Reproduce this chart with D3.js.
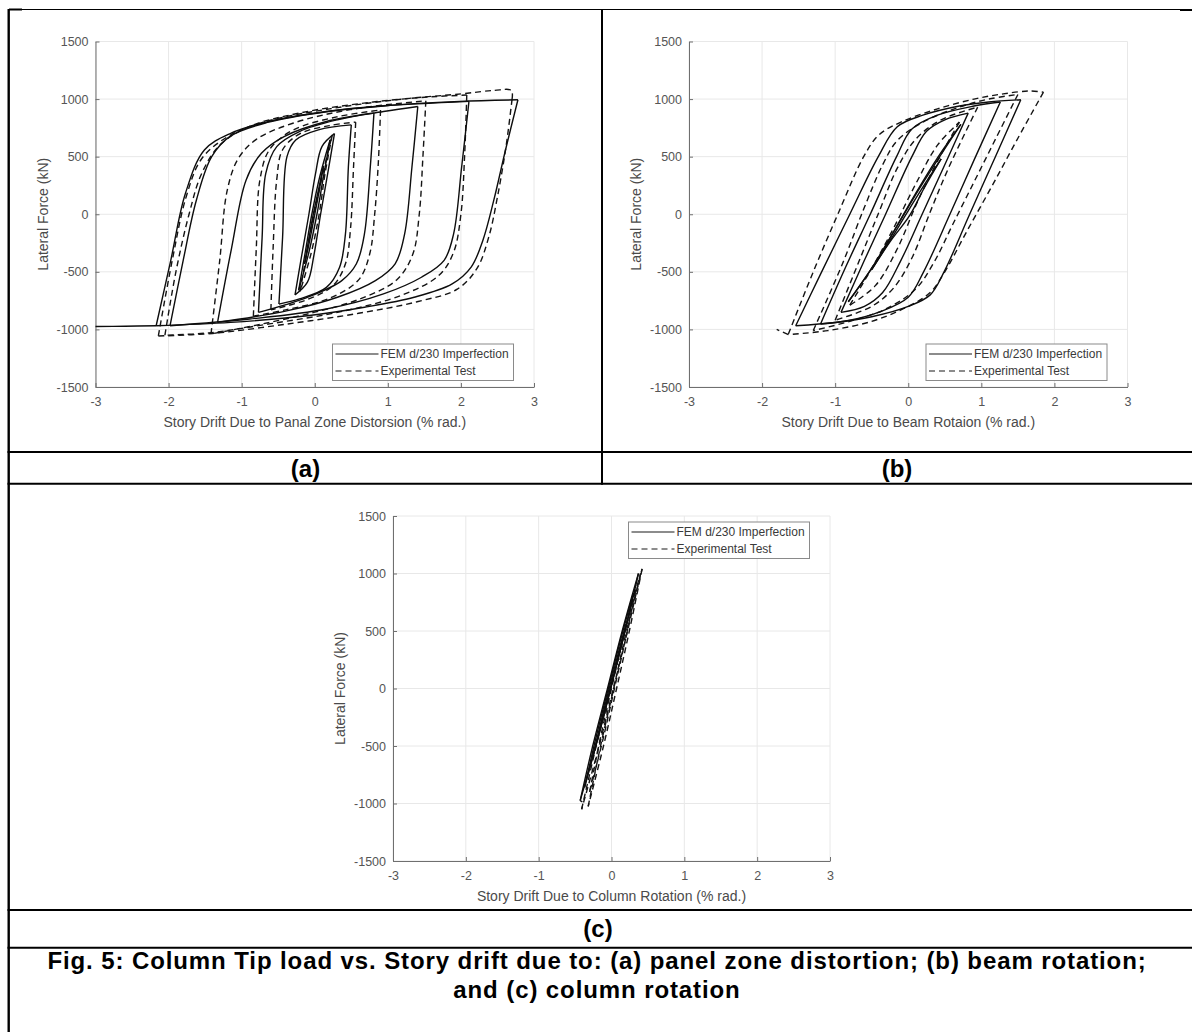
<!DOCTYPE html>
<html>
<head>
<meta charset="utf-8">
<script src="https://cdn.jsdelivr.net/npm/d3@7"></script>
<style>
  html, body { margin: 0; padding: 0; background: #fff; }
  svg { display: block; }
</style>
</head>
<body>
<svg id="figure" width="1192" height="1032"></svg>
<script>
// ---- data ----
const X_TICKS = [-3, -2, -1, 0, 1, 2, 3];
const Y_TICKS = [-1500, -1000, -500, 0, 500, 1000, 1500];
const SERIES_NAMES = ['FEM d/230 Imperfection', 'Experimental Test'];
const X_TITLES = [
    'Story Drift Due to Panal Zone Distorsion (% rad.)',
    'Story Drift Due to Beam Rotaion (% rad.)',
    'Story Drift Due to Column Rotation (% rad.)'
];
const Y_TITLE = 'Lateral Force (kN)';
const PANEL_TAGS = ['(a)', '(b)', '(c)'];
const CAPTION_LINES = [
    'Fig. 5: Column Tip load vs. Story drift due to: (a) panel zone distortion; (b) beam rotation;',
    'and (c) column rotation'
];

// every entry is one half cycle, points are [drift %, force kN]
const PZ_FEM = [
    [[0.12, 420], [0.06, 200], [0.0, 0], [-0.07, -230], [-0.14, -430]],
    [[-0.14, -430], [-0.08, -210], [-0.02, 0], [0.05, 210], [0.12, 420]],
    [[0.21, 645], [0.12, 330], [0.03, 0], [-0.08, -330], [-0.22, -660]],
    [[-0.22, -660], [-0.13, -330], [-0.04, 0], [0.07, 330], [0.21, 645]],
    [[0.27, 700], [0.19, 400], [0.08, 0], [-0.01, -350], [-0.1, -590], [-0.27, -700]],
    [[-0.27, -700], [-0.19, -400], [-0.08, 0], [0.01, 350], [0.1, 590], [0.27, 700]],
    [[0.50, 776], [0.46, 410], [0.42, -170], [0.34, -460], [0.16, -635], [-0.21, -735], [-0.49, -780]],
    [[-0.49, -780], [-0.44, -200], [-0.38, 500], [-0.26, 645], [0.05, 733], [0.50, 776]],
    [[0.81, 878], [0.76, 410], [0.68, -170], [0.57, -430], [0.37, -576], [-0.10, -721], [-0.77, -852]],
    [[-0.77, -852], [-0.72, -200], [-0.67, 355], [-0.52, 587], [-0.21, 718], [0.31, 820], [0.81, 878]],
    [[1.41, 936], [1.33, 410], [1.23, -170], [1.10, -430], [0.83, -576], [0.31, -721], [-0.37, -837], [-1.33, -939]],
    [[-1.33, -939], [-1.14, -300], [-0.94, 296], [-0.73, 529], [-0.42, 674], [0.16, 805], [0.94, 892], [1.41, 936]],
    [[2.11, 980], [2.01, 410], [1.90, -170], [1.77, -400], [1.46, -547], [0.94, -692], [0.16, -823], [-0.89, -910], [-1.98, -968]],
    [[-1.98, -968], [-1.80, -400], [-1.62, 122], [-1.41, 500], [-1.15, 680], [-0.63, 800], [0.16, 890], [0.94, 940], [2.11, 980]],
    [[2.78, 994], [2.61, 558], [2.45, 122], [2.30, -227], [2.14, -459], [1.88, -605], [1.36, -721], [0.68, -808], [-0.10, -881], [-1.15, -939], [-2.17, -968]],
    [[-2.17, -968], [-1.97, -400], [-1.77, 180], [-1.51, 558], [-1.15, 703], [-0.63, 805], [0.16, 892], [0.94, 942], [1.98, 980], [2.78, 994]],
    [[-2.17, -968], [-2.6, -972], [-3.0, -975]]
];
const PZ_EXP = [
    [[0.24, 690], [0.14, 350], [0.06, 0], [-0.05, -340], [-0.2, -670]],
    [[-0.2, -670], [-0.11, -340], [-0.01, 0], [0.11, 350], [0.24, 690]],
    [[0.56, 800], [0.53, 400], [0.49, -120], [0.42, -430], [0.25, -620], [-0.1, -740], [-0.6, -830]],
    [[-0.6, -830], [-0.57, -300], [-0.52, 300], [-0.44, 560], [-0.2, 700], [0.2, 770], [0.56, 800]],
    [[0.90, 905], [0.87, 450], [0.82, 0], [0.75, -350], [0.6, -570], [0.2, -730], [-0.4, -830], [-0.84, -885]],
    [[-0.84, -885], [-0.8, -300], [-0.75, 300], [-0.62, 560], [-0.3, 730], [0.3, 845], [0.90, 905]],
    [[1.52, 985], [1.48, 500], [1.43, 0], [1.34, -350], [1.12, -570], [0.6, -740], [0.0, -850], [-0.7, -950], [-1.42, -1040]],
    [[-1.42, -1040], [-1.3, -400], [-1.2, 200], [-1.05, 480], [-0.8, 650], [-0.3, 790], [0.5, 910], [1.52, 985]],
    [[2.08, 1035], [2.05, 500], [2.0, 0], [1.9, -330], [1.7, -530], [1.2, -700], [0.4, -840], [-0.6, -950], [-1.45, -1030], [-2.05, -1050]],
    [[-2.05, -1050], [-1.9, -500], [-1.72, 0], [-1.55, 350], [-1.3, 600], [-0.9, 760], [-0.2, 880], [0.8, 975], [1.6, 1020], [2.08, 1035]],
    [[2.70, 1000], [2.62, 600], [2.5, 150], [2.38, -200], [2.22, -470], [1.95, -650], [1.4, -760], [0.6, -860], [-0.4, -955], [-1.4, -1035], [-2.14, -1057]],
    [[-2.14, -1057], [-1.95, -400], [-1.76, 150], [-1.55, 480], [-1.2, 670], [-0.7, 800], [0.2, 915], [1.2, 1000], [2.0, 1045], [2.45, 1075], [2.69, 1075], [2.70, 1000]]
];
const BEAM_FEM = [
    [[0.45, 480], [0.2, 235], [-0.02, 10], [-0.25, -230], [-0.5, -480]],
    [[-0.5, -480], [-0.25, -240], [0.02, -10], [0.22, 230], [0.45, 480]],
    [[0.72, 780], [0.45, 520], [0.15, 220], [-0.15, -100], [-0.45, -420], [-0.82, -760]],
    [[-0.82, -760], [-0.5, -470], [-0.2, -150], [0.1, 180], [0.4, 490], [0.72, 780]],
    [[0.82, 878], [0.5, 430], [0.19, 0], [-0.1, -400], [-0.35, -680], [-0.6, -800], [-0.92, -852]],
    [[-0.92, -852], [-0.6, -400], [-0.31, 0], [0.05, 500], [0.25, 720], [0.5, 820], [0.82, 878]],
    [[1.26, 975], [0.9, 470], [0.57, 0], [0.21, -500], [0.0, -720], [-0.4, -850], [-0.8, -920], [-1.2, -953]],
    [[-1.2, -953], [-0.85, -450], [-0.52, 0], [-0.16, 500], [0.05, 740], [0.4, 860], [0.9, 940], [1.26, 975]],
    [[1.54, 994], [1.2, 510], [0.84, 0], [0.49, -500], [0.3, -700], [0.0, -800], [-0.5, -890], [-1.0, -940], [-1.54, -968]],
    [[-1.54, -968], [-1.2, -520], [-0.8, 0], [-0.41, 500], [-0.15, 760], [0.2, 860], [0.7, 940], [1.1, 975], [1.54, 994]]
];
const BEAM_EXP = [
    [[0.7, 800], [0.4, 460], [0.12, 100], [-0.15, -300], [-0.45, -620], [-0.8, -790]],
    [[-0.8, -790], [-0.5, -470], [-0.2, -120], [0.1, 260], [0.4, 600], [0.7, 800]],
    [[0.95, 930], [0.55, 400], [0.3, 20], [0.05, -380], [-0.2, -640], [-0.5, -800], [-1.0, -920]],
    [[-1.0, -920], [-0.7, -450], [-0.4, 20], [-0.15, 400], [0.1, 650], [0.45, 820], [0.95, 930]],
    [[1.5, 1040], [1.2, 660], [0.9, 280], [0.6, -100], [0.35, -420], [0.1, -650], [-0.3, -820], [-0.8, -930], [-1.3, -1010]],
    [[-1.3, -1010], [-0.9, -430], [-0.6, 60], [-0.35, 430], [-0.15, 640], [0.2, 800], [0.7, 930], [1.1, 1000], [1.5, 1040]],
    [[1.85, 1060], [1.5, 660], [1.15, 250], [0.8, -150], [0.5, -500], [0.3, -680], [0.0, -800], [-0.5, -930], [-1.1, -1010], [-1.64, -1045]],
    [[-1.64, -1045], [-1.8, -1000]],
    [[-1.64, -1040], [-1.3, -500], [-0.95, 20], [-0.61, 500], [-0.4, 690], [-0.1, 800], [0.4, 915], [0.9, 1000], [1.3, 1045], [1.65, 1070], [1.85, 1060]]
];
const COL_FEM = [
    [[0.37, 1000], [0.187, 500], [-0.015, 0], [-0.218, -500], [-0.43, -975]],
    [[-0.43, -975], [-0.258, -500], [-0.055, 0], [0.147, 500], [0.37, 1000]],
    [[0.30, 830], [0.145, 400], [-0.014, 0], [-0.173, -400], [-0.37, -860]],
    [[-0.37, -860], [-0.203, -400], [-0.044, 0], [0.115, 400], [0.30, 830]],
    [[0.20, 560], [0.06, 180], [-0.09, -200], [-0.26, -600]],
    [[-0.26, -600], [-0.11, -200], [0.04, 180], [0.20, 560]],
    [[-0.43, -975], [-0.40, -985]]
];
const COL_EXP = [
    [[0.42, 1040], [0.245, 500], [0.07, 0], [-0.11, -500], [-0.32, -1025]],
    [[-0.32, -1025], [-0.15, -500], [0.03, 0], [0.205, 500], [0.42, 1040]],
    [[0.40, 1000], [0.22, 500], [0.025, 0], [-0.17, -500], [-0.41, -1050]],
    [[-0.41, -1050], [-0.21, -500], [-0.015, 0], [0.18, 500], [0.40, 1000]],
    [[0.33, 860], [0.2, 450], [0.04, 0], [-0.12, -450], [-0.3, -900]],
    [[-0.3, -900], [-0.16, -450], [0.0, 0], [0.165, 450], [0.33, 860]]
];

// ---- drawing ----
const FONT = '"Liberation Sans", Arial, Helvetica, sans-serif';
const W = 1192, H = 1032;
const svg = d3.select('#figure');
svg.append('rect').attr('width', W).attr('height', H).attr('fill', '#fff');

function drawPanel(box, fem, exp, xTitle, legendTop) {
    const x = d3.scaleLinear().domain([-3, 3]).range([box.left, box.right]);
    const y = d3.scaleLinear().domain([-1500, 1500]).range([box.bottom, box.top]);
    const g = svg.append('g');

    // light grid
    g.append('g').selectAll('line').data(X_TICKS).join('line')
        .attr('x1', d => x(d)).attr('x2', d => x(d))
        .attr('y1', box.top).attr('y2', box.bottom)
        .attr('stroke', '#e8e8e8');
    g.append('g').selectAll('line').data(Y_TICKS).join('line')
        .attr('x1', box.left).attr('x2', box.right)
        .attr('y1', d => y(d)).attr('y2', d => y(d))
        .attr('stroke', '#e8e8e8');

    // axes, ticks pointing inward like matlab
    const xAxis = g.append('g')
        .attr('transform', `translate(0,${box.bottom})`)
        .call(d3.axisBottom(x).tickValues(X_TICKS).tickFormat(d => String(d))
            .tickSizeInner(-4).tickSizeOuter(0).tickPadding(10));
    const yAxis = g.append('g')
        .attr('transform', `translate(${box.left},0)`)
        .call(d3.axisLeft(y).tickValues(Y_TICKS).tickFormat(d => String(d))
            .tickSizeInner(-4).tickSizeOuter(0).tickPadding(7));
    [xAxis, yAxis].forEach(a => {
        a.select('.domain').attr('stroke', '#6f6f6f');
        a.selectAll('.tick line').attr('stroke', '#6f6f6f');
        a.selectAll('.tick text').attr('fill', '#555')
            .style('font-family', FONT).style('font-size', '12.5px');
    });

    g.append('text')
        .attr('x', (box.left + box.right) / 2).attr('y', box.bottom + 40)
        .attr('text-anchor', 'middle').attr('fill', '#4a4a4a')
        .style('font-family', FONT).style('font-size', '14px')
        .text(xTitle);
    g.append('text')
        .attr('transform', `translate(${box.left - 52.7},${(box.top + box.bottom) / 2}) rotate(-90)`)
        .attr('text-anchor', 'middle').attr('dy', '0.35em').attr('fill', '#4a4a4a')
        .style('font-family', FONT).style('font-size', '14px')
        .text(Y_TITLE);

    // hysteresis curves
    const line = d3.line()
        .x(d => x(d[0])).y(d => y(d[1]))
        .curve(d3.curveCatmullRom.alpha(0.5));
    g.append('g').selectAll('path').data(exp).join('path')
        .attr('d', line).attr('fill', 'none')
        .attr('stroke', '#141414').attr('stroke-width', 1.4)
        .attr('stroke-dasharray', '6,4');
    g.append('g').selectAll('path').data(fem).join('path')
        .attr('d', line).attr('fill', 'none')
        .attr('stroke', '#0d0d0d').attr('stroke-width', 1.4);

    // legend
    const lw = 181, lh = 36.5;
    const lx = box.right - 20.5 - lw;
    const ly = legendTop ? box.top + 6 : box.bottom - 6.5 - lh;
    const lg = g.append('g').attr('transform', `translate(${lx},${ly})`);
    lg.append('rect').attr('width', lw).attr('height', lh)
        .attr('fill', '#fff').attr('stroke', '#8a8a8a');
    const rows = lg.selectAll('g').data(SERIES_NAMES).join('g')
        .attr('transform', (d, i) => `translate(0,${10 + i * 17})`);
    rows.append('line').attr('x1', 3).attr('x2', 46)
        .attr('stroke', '#1a1a1a').attr('stroke-width', 1.2)
        .attr('stroke-dasharray', (d, i) => i ? '6,4' : null);
    rows.append('text').attr('x', 48).attr('dy', '0.35em')
        .attr('fill', '#3a3a3a')
        .style('font-family', FONT).style('font-size', '12px')
        .text(d => d);
}

drawPanel({left: 95.5, right: 534, top: 41.5, bottom: 387}, PZ_FEM, PZ_EXP, X_TITLES[0], false);
drawPanel({left: 689, right: 1127.5, top: 41.5, bottom: 387}, BEAM_FEM, BEAM_EXP, X_TITLES[1], false);
drawPanel({left: 393, right: 830, top: 516, bottom: 861}, COL_FEM, COL_EXP, X_TITLES[2], true);

// table rules round the panels
const rules = svg.append('g').attr('stroke', '#000');
rules.append('line').attr('x1', 9).attr('x2', W).attr('y1', 9.5).attr('y2', 9.5).attr('stroke-width', 1);
rules.append('line').attr('x1', 9).attr('x2', 22).attr('y1', 9.5).attr('y2', 9.5).attr('stroke-width', 2);
rules.append('line').attr('x1', 1180).attr('x2', W).attr('y1', 10).attr('y2', 10).attr('stroke-width', 2);
rules.append('line').attr('x1', 8.7).attr('x2', 8.7).attr('y1', 9).attr('y2', H).attr('stroke-width', 2.4);
rules.append('line').attr('x1', 602).attr('x2', 602).attr('y1', 9).attr('y2', 484.7).attr('stroke-width', 2);
[452, 483.7, 910, 947.7].forEach(yy => {
    rules.append('line').attr('x1', 7.5).attr('x2', W).attr('y1', yy).attr('y2', yy).attr('stroke-width', 2);
});

// panel tags and caption
const tagPos = [[305.5, 477], [897, 477], [598, 937]];
svg.append('g').selectAll('text').data(PANEL_TAGS).join('text')
    .attr('x', (d, i) => tagPos[i][0]).attr('y', (d, i) => tagPos[i][1])
    .attr('text-anchor', 'middle')
    .style('font-family', FONT).style('font-size', '24px').style('font-weight', 'bold')
    .text(d => d);
svg.append('g').selectAll('text').data(CAPTION_LINES).join('text')
    .attr('x', 597).attr('y', (d, i) => 969 + i * 29)
    .attr('text-anchor', 'middle')
    .style('font-family', FONT).style('font-size', '24px').style('font-weight', 'bold')
    .style('letter-spacing', '0.9px')
    .text(d => d);
</script>
</body>
</html>
